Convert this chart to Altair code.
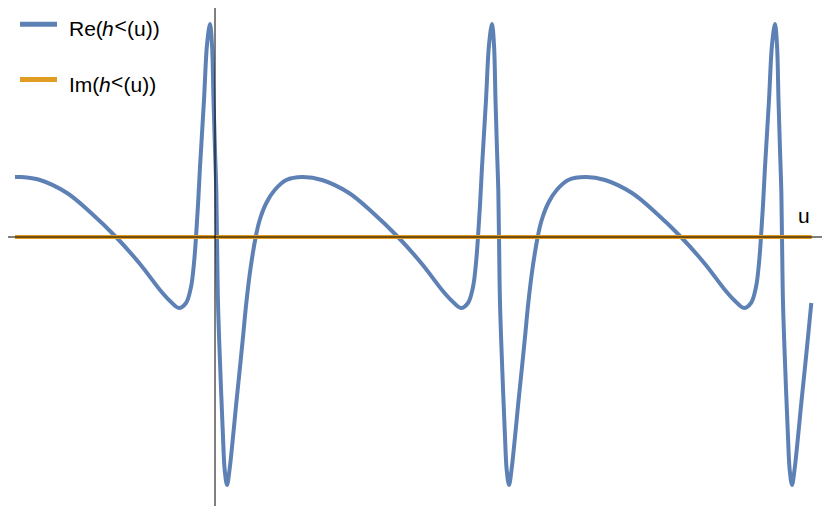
import altair as alt
import pandas as pd

# One period of Re(h<(u)): offsets from each sharp peak (du) and values
shape_du = [-1.895, -1.70, -1.43, -1.20, -0.94, -0.70, -0.50, -0.40, -0.31, -0.24, -0.19,
            -0.16, -0.14, -0.12, -0.10, -0.06, -0.03, 0.00, 0.02, 0.035, 0.05, 0.063,
            0.07, 0.08, 0.103, 0.13, 0.147, 0.17, 0.195, 0.23, 0.263, 0.297, 0.33, 0.363,
            0.403, 0.457, 0.497, 0.563, 0.647, 0.763]
shape_re = [0.60, 0.57, 0.44, 0.25, 0.00, -0.27, -0.53, -0.64, -0.71, -0.66, -0.50,
            -0.26, 0.00, 0.32, 0.70, 1.37, 1.92, 2.13, 1.92, 1.37, 0.87, 0.47,
            0.00, -0.66, -1.33, -2.00, -2.33, -2.48, -2.33, -2.00, -1.66, -1.33, -1.00, -0.66,
            -0.33, 0.00, 0.17, 0.34, 0.47, 0.57]
peak_u = [-0.05, 2.77, 5.60]
start_u, start_re = -2.00, 0.60
end_u = 5.963

# Im(h<(u)) is zero along the whole range
im_u = [-2.00, 5.967]
im_v = [0.0, 0.0]

x_domain = [-2.07, 6.07]
y_domain = [-2.69, 2.29]

rows = [{"u": start_u, "v": start_re}]
for p in peak_u:
    for du, v in zip(shape_du, shape_re):
        u = p + du
        if start_u < u <= end_u + 1e-9:
            rows.append({"u": round(u, 4), "v": v})
re_df = pd.DataFrame(rows)
im_df = pd.DataFrame({"u": im_u, "v": im_v})
one = pd.DataFrame({"a": [0]})

xs = alt.Scale(domain=x_domain, nice=False, zero=False)
ys = alt.Scale(domain=y_domain, nice=False, zero=False)

BLUE = "#5E81B5"
ORANGE = "#E19C24"
FONT = "Liberation Sans"
FS = 21

re_line = alt.Chart(re_df).mark_line(color=BLUE, strokeWidth=4, interpolate="catmull-rom").encode(
    x=alt.X("u:Q", scale=xs, axis=None),
    y=alt.Y("v:Q", scale=ys, axis=None),
)
im_line = alt.Chart(im_df).mark_line(color=ORANGE, strokeWidth=4).encode(
    x=alt.X("u:Q", scale=xs, axis=None),
    y=alt.Y("v:Q", scale=ys, axis=None),
)
x_axis = alt.Chart(one).mark_rule(color="black", strokeWidth=1).encode(
    x=alt.value(0), x2=alt.value(814), y=alt.datum(0)
)
y_axis = alt.Chart(one).mark_rule(color="black", strokeWidth=1).encode(
    x=alt.datum(0), y=alt.value(0), y2=alt.value(498)
)

def txt(s, x, y, italic=False, size=FS):
    kw = dict(align="left", baseline="alphabetic", font=FONT, fontSize=size, color="black")
    if italic:
        kw["fontStyle"] = "italic"
    return alt.Chart(one).mark_text(text=s, **kw).encode(x=alt.value(x), y=alt.value(y))

leg_blue = alt.Chart(one).mark_rule(color=BLUE, strokeWidth=5).encode(
    x=alt.value(12), x2=alt.value(49), y=alt.value(16.2))
leg_orange = alt.Chart(one).mark_rule(color=ORANGE, strokeWidth=5).encode(
    x=alt.value(12), x2=alt.value(49), y=alt.value(71.5))

legend = [
    leg_blue, leg_orange,
    txt("Re(", 61, 28), txt("h", 94, 28, italic=True), txt("<", 106.5, 25), txt("(u))", 119, 28),
    txt("Im(", 61, 84), txt("h", 91, 84, italic=True), txt("<", 103, 81), txt("(u))", 115.5, 84),
    txt("u", 790, 215),
]

chart = alt.layer(re_line, im_line, x_axis, y_axis, *legend).properties(
    width=814, height=498, padding=0, autosize=alt.AutoSizeParams(type="none")
).configure_view(stroke=None)

chart.save("out.html", embed_options={"renderer": "svg", "actions": False})
